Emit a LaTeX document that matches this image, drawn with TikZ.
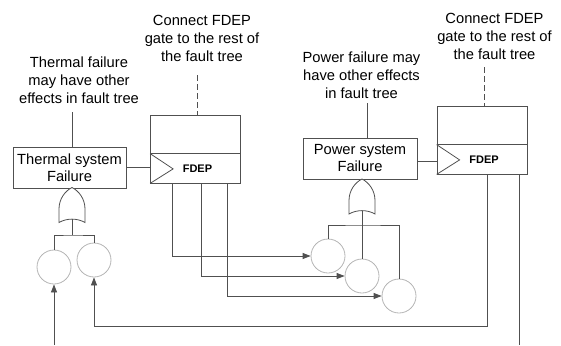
\documentclass[tikz,border=0pt]{standalone}
\usepackage{fontspec}
\setmainfont{Liberation Sans}
\usetikzlibrary{arrows.meta}
\definecolor{linegray}{HTML}{505050}
\definecolor{circlegray}{HTML}{B4B4B4}

\begin{document}
\begin{tikzpicture}[
  x=1pt,y=-1pt,
  >={Triangle[length=8pt,width=6pt]},
  line/.style={draw=linegray,line width=0.8pt},
  note/.style={align=center,inner sep=0pt,font=\fontsize{14.7}{18}\selectfont},
  sysbox/.style={draw=linegray,line width=0.8pt,align=center,minimum width=113pt,minimum height=41pt,inner sep=0pt,font=\fontsize{14.7}{17}\selectfont},
  fdepbox/.style={draw=linegray,line width=0.8pt,minimum width=90pt,minimum height=68pt,inner sep=0pt},
  basic/.style={circle,draw=circlegray,line width=0.8pt,minimum size=34pt,inner sep=0pt},
  orgate/.pic={
    \draw[line,fill=white] (-13,17.5) -- (-13,4) .. controls (-13,-6) and (-7,-14) .. (0,-17.5)
      .. controls (7,-14) and (13,-6) .. (13,4) -- (13,17.5) .. controls (5,13) and (-5,13) .. cycle;
    \coordinate (-in) at (0,14.1);
  }
]
  \useasboundingbox (0,0) rectangle (561,345);

  % notes above the gates
  \node[note] (thermNote) at (79,80) {Thermal failure\\may have other\\effects in fault tree};
  \node[note] (conn1) at (202,38) {Connect FDEP\\gate to the rest of\\the fault tree};
  \node[note] (powerNote) at (361.5,75) {Power failure may\\have other effects\\in fault tree};
  \node[note] (conn2) at (494.5,36) {Connect FDEP\\gate to the rest of\\the fault tree};

  % system failure events
  \node[sysbox] (thermBox) at (69.5,167.5) {Thermal system\\Failure};
  \node[sysbox,minimum width=114pt] (powerBox) at (360,158.5) {Power system\\Failure};

  % FDEP gates
  \foreach \nm/\cx/\cy in {f1/195.5/149, f2/482/140}{
    \node[fdepbox] (\nm) at (\cx,\cy) {};
    \coordinate (\nm-div) at ([yshift=-39pt]\nm.north west);
    \draw[line] (\nm-div) -- (\nm-div -| \nm.east);
    \draw[line] (\nm-div) -- ([xshift=23pt,yshift=14.5pt]\nm.south west) -- (\nm.south west);
    \node[font=\bfseries\fontsize{11}{13}\selectfont] (\nm-lbl) at ([xshift=2pt,yshift=14.5pt]\nm.south) {FDEP};
  }

  % OR gates
  \pic (gT) at (72,205) {orgate};
  \pic (gP) at (362,196.5) {orgate};

  % basic events
  \node[basic] (t1) at (54,267) {};
  \node[basic] (t2) at (94,260) {};
  \node[basic] (p1) at (328,256) {};
  \node[basic] (p2) at (362,276) {};
  \node[basic] (p3) at (399,296) {};

  % note leaders
  \coordinate (thermTop) at (72,112);
  \draw[line] (thermTop) -- (thermBox.north -| thermTop);
  \coordinate (powerTop) at (367,103);
  \draw[line] (powerTop) -- (powerBox.north -| powerTop);
  \coordinate (c1Top) at (197,75);
  \draw[line,dash pattern=on 6pt off 3pt] (c1Top) -- (c1Top |- f1.north);
  \coordinate (c2Top) at (484,67);
  \draw[line,dash pattern=on 6pt off 3pt] (c2Top) -- (c2Top |- f2.north);

  % triggers into FDEP
  \draw[line] (thermBox.east) -- (thermBox.east -| f1.west);
  \draw[line] ([yshift=-2.5pt]powerBox.east) -- ([yshift=-2.5pt]powerBox.east -| f2.west);

  % OR gate inputs
  \coordinate (tJ) at (72,235);
  \draw[line] (gT-in) -- (tJ);
  \draw[line] (t1.north) |- (tJ) -| (t2.north);
  \coordinate (pJ) at (362,225);
  \draw[line] (gP-in) -- (p2.north);
  \draw[line] (p1.north) |- (pJ) -| (p3.north);

  % dependent events
  \draw[line,->] ([xshift=-23.5pt]f1.south) |- (p1.west);
  \draw[line,->] ([xshift=5.5pt]f1.south) |- (p2.west);
  \draw[line,->] ([xshift=31.5pt]f1.south) |- (p3.west);
  \draw[line,->] ([xshift=5pt]f2.south) -- ++(0,152) -| (t2.south);
  \coordinate (t1In) at (54,345);
  \draw[line,->] (t1In) -- (t1.south);
  \coordinate (f2Out) at (519,345);
  \draw[line] ([xshift=37pt]f2.south) -- (f2Out);
\end{tikzpicture}
\end{document}
